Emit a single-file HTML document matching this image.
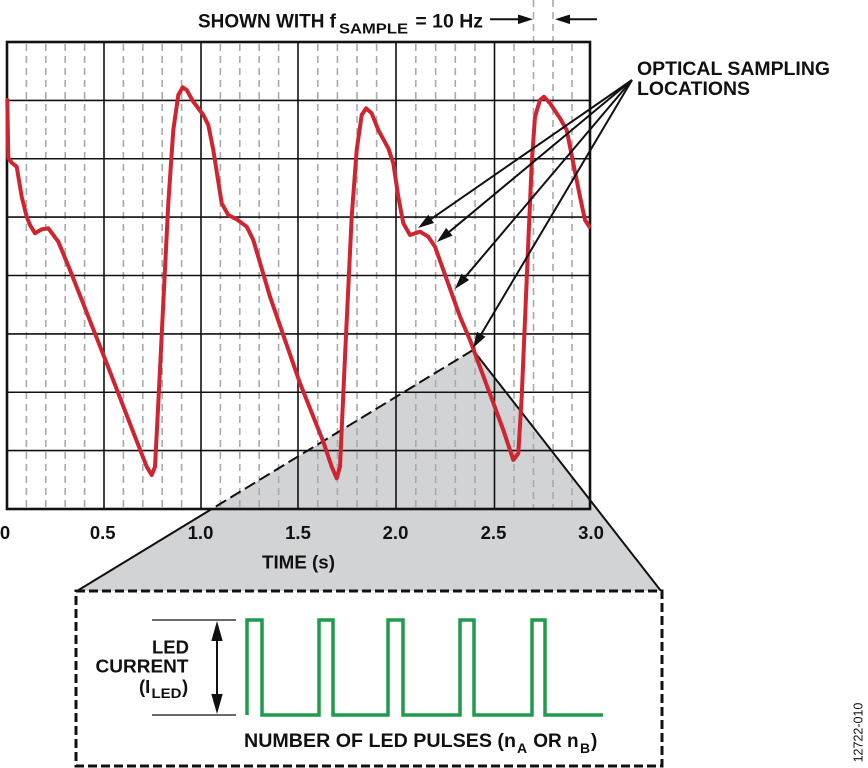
<!DOCTYPE html>
<html><head><meta charset="utf-8"><style>
html,body{margin:0;padding:0;background:#fff;}
svg{display:block;}
text{font-family:"Liberation Sans",Arial,sans-serif;font-weight:bold;fill:#111;}
</style></head><body>
<svg width="868" height="768" viewBox="0 0 868 768" xmlns="http://www.w3.org/2000/svg">
<rect x="0" y="0" width="868" height="768" fill="#fff"/>
<!-- gray magnifier triangle -->
<polygon points="473,350 77,591 661,591" fill="#d2d3d5"/>
<!-- minor dashed grid -->
<g stroke="#a9a9a9" stroke-width="1.6" stroke-dasharray="7 5" fill="none">
<line x1="26.4" y1="44" x2="26.4" y2="509"/><line x1="45.8" y1="44" x2="45.8" y2="509"/><line x1="65.2" y1="44" x2="65.2" y2="509"/><line x1="84.6" y1="44" x2="84.6" y2="509"/>
<line x1="123.4" y1="44" x2="123.4" y2="509"/><line x1="142.8" y1="44" x2="142.8" y2="509"/><line x1="162.2" y1="44" x2="162.2" y2="509"/><line x1="181.6" y1="44" x2="181.6" y2="509"/>
<line x1="220.4" y1="44" x2="220.4" y2="509"/><line x1="239.8" y1="44" x2="239.8" y2="509"/><line x1="259.2" y1="44" x2="259.2" y2="509"/><line x1="278.6" y1="44" x2="278.6" y2="509"/>
<line x1="317.8" y1="44" x2="317.8" y2="509"/><line x1="337.4" y1="44" x2="337.4" y2="509"/><line x1="357" y1="44" x2="357" y2="509"/><line x1="376.6" y1="44" x2="376.6" y2="509"/>
<line x1="415.8" y1="44" x2="415.8" y2="509"/><line x1="435.6" y1="44" x2="435.6" y2="509"/><line x1="455.3" y1="44" x2="455.3" y2="509"/><line x1="475" y1="44" x2="475" y2="509"/>
<line x1="514" y1="44" x2="514" y2="509"/><line x1="533.5" y1="0" x2="533.5" y2="509"/><line x1="553" y1="0" x2="553" y2="509"/><line x1="572" y1="44" x2="572" y2="509"/>
</g>
<!-- major grid -->
<g stroke="#111" stroke-width="1.6" fill="none">
<line x1="7" y1="100.4" x2="590" y2="100.4"/>
<line x1="7" y1="158.75" x2="590" y2="158.75"/>
<line x1="7" y1="217.1" x2="590" y2="217.1"/>
<line x1="7" y1="275.5" x2="590" y2="275.5"/>
<line x1="7" y1="333.9" x2="590" y2="333.9"/>
<line x1="7" y1="392.25" x2="590" y2="392.25"/>
<line x1="7" y1="450.6" x2="590" y2="450.6"/>
<line x1="104" y1="42" x2="104" y2="509"/>
<line x1="201" y1="42" x2="201" y2="509"/>
<line x1="298" y1="42" x2="298" y2="509"/>
<line x1="396" y1="42" x2="396" y2="509"/>
<line x1="494.5" y1="42" x2="494.5" y2="509"/>
</g>
<rect x="7" y="42" width="583" height="467" fill="none" stroke="#111" stroke-width="2.6"/>
<!-- triangle edges -->
<line x1="473" y1="350" x2="211.7" y2="509" stroke="#111" stroke-width="2" stroke-dasharray="12 5"/>
<line x1="211.7" y1="509" x2="77" y2="591" stroke="#111" stroke-width="2"/>
<line x1="473" y1="350" x2="661" y2="591" stroke="#111" stroke-width="2"/>
<!-- red waveform -->
<polyline fill="none" stroke="#cf2530" stroke-width="4" stroke-linejoin="round" stroke-linecap="round" points="7.3,100 8.3,158 11.7,162.7 16.7,166.7 21.7,196.7 26.7,216.7 30,225 35,233.3 41.7,229.3 48.3,228.3 58.3,241.7 70,270 106.7,363.3 135,436.7 146.7,466.7 151.7,475 155,466.7 158.3,403.3 163.3,303 168.3,203 173.3,130 178.3,95 182.7,87.3 186.7,90 193.3,101.7 203.3,115 208.3,125 213.3,150 221.7,203.3 228.3,215 236.7,219.3 246.7,226.7 253.3,240 270,296.7 300,383.3 323.3,441.7 331.7,466.7 336.7,478.3 340,466.7 345,356.7 351.7,216.7 356.7,150 361.7,115 366,108.3 371.7,113.3 378.3,130 388.3,148.3 393.3,163.3 398.3,196.7 403.3,223.3 410,235 420,231.7 428.3,236.7 435,246.7 460,316.7 470,340 503.3,430 513.3,460 518.3,453.3 521.7,396.7 526.7,280 531.7,163.3 535,116.7 540,100 544,96.7 550,103.3 560,118.3 566.7,130 573.3,163.3 580,196.7 585,220 589.3,226.7"/>
<!-- optical sampling arrows -->
<g stroke="#111" stroke-width="2" fill="none">
<line x1="632" y1="80" x2="431.2" y2="218.9"/>
<line x1="632" y1="80" x2="449.3" y2="231.8"/>
<line x1="632" y1="80" x2="465.3" y2="276.8"/>
<line x1="632" y1="80" x2="481.2" y2="334.2"/>
</g>
<g fill="#111">
<polygon points="418,228 428.3,214.8 434,223"/>
<polygon points="437,242 446.1,227.9 452.5,235.6"/>
<polygon points="455,289 461.5,273.6 469.1,280"/>
<polygon points="473,348 476.9,331.7 485.5,336.8"/>
</g>
<!-- header arrows -->
<line x1="490" y1="19.3" x2="520" y2="19.3" stroke="#111" stroke-width="2"/>
<polygon points="533,19.3 518,14.5 518,24.1" fill="#111"/>
<line x1="568" y1="19.3" x2="597" y2="19.3" stroke="#111" stroke-width="2"/>
<polygon points="555,19.3 570,14.5 570,24.1" fill="#111"/>
<!-- header text -->
<text x="198" y="27.3" font-size="19" textLength="138" lengthAdjust="spacingAndGlyphs">SHOWN WITH f</text>
<text x="339" y="33.5" font-size="15" textLength="69" lengthAdjust="spacingAndGlyphs">SAMPLE</text>
<text x="410" y="27.3" font-size="19" textLength="73" lengthAdjust="spacingAndGlyphs" xml:space="preserve"> = 10 Hz</text>
<text x="637" y="75" font-size="19" textLength="193" lengthAdjust="spacingAndGlyphs">OPTICAL SAMPLING</text>
<text x="637" y="95" font-size="19" textLength="113" lengthAdjust="spacingAndGlyphs">LOCATIONS</text>
<!-- tick labels -->
<g font-size="18.5" text-anchor="middle">
<text x="5" y="539">0</text>
<text x="102.7" y="539">0.5</text>
<text x="200.5" y="539">1.0</text>
<text x="298" y="539">1.5</text>
<text x="395.5" y="539">2.0</text>
<text x="493.5" y="539">2.5</text>
<text x="591" y="539">3.0</text>
</g>
<text x="262" y="568.5" font-size="18.5" textLength="73" lengthAdjust="spacingAndGlyphs">TIME (s)</text>
<!-- bottom box -->
<rect x="76" y="591" width="586" height="175" fill="#fff" stroke="#111" stroke-width="3" stroke-dasharray="9 4"/>
<!-- LED current annotation -->
<g stroke="#111" stroke-width="1.3">
<line x1="152" y1="620" x2="236" y2="620"/>
<line x1="152" y1="715" x2="236" y2="715"/>
<line x1="217" y1="636" x2="217" y2="699" stroke-width="2"/>
</g>
<polygon points="217,621 211.3,641 222.7,641" fill="#111"/>
<polygon points="217,714 211.3,694 222.7,694" fill="#111"/>
<g font-size="18.5" text-anchor="end">
<text x="189" y="653.3">LED</text>
<text x="188.5" y="672.7" textLength="93" lengthAdjust="spacingAndGlyphs">CURRENT</text>
</g>
<text x="139" y="693" font-size="18.5">(I</text>
<text x="151.5" y="698" font-size="14" textLength="30" lengthAdjust="spacingAndGlyphs">LED</text>
<text x="182" y="693" font-size="18.5">)</text>
<!-- green pulses -->
<path d="M247,715 V620 H262 V715 H319 V620 H333 V715 H388 V620 H403 V715 H460 V620 H474 V715 H532 V620 H545 V715 H603" fill="none" stroke="#1e9b4b" stroke-width="3.5" stroke-linejoin="miter"/>
<!-- bottom label -->
<text x="244" y="747" font-size="19" textLength="272" lengthAdjust="spacingAndGlyphs">NUMBER OF LED PULSES (n</text>
<text x="517" y="753" font-size="14">A</text>
<text x="528" y="747" font-size="19" xml:space="preserve"> OR n</text>
<text x="580" y="753" font-size="14">B</text>
<text x="591" y="747" font-size="19">)</text>
<!-- figure id -->
<text x="0" y="0" font-size="12.5" font-weight="normal" style="font-weight:normal" fill="#222" text-anchor="middle" transform="translate(862.5,732.5) rotate(-90)">12722-010</text>
</svg>
</body></html>
